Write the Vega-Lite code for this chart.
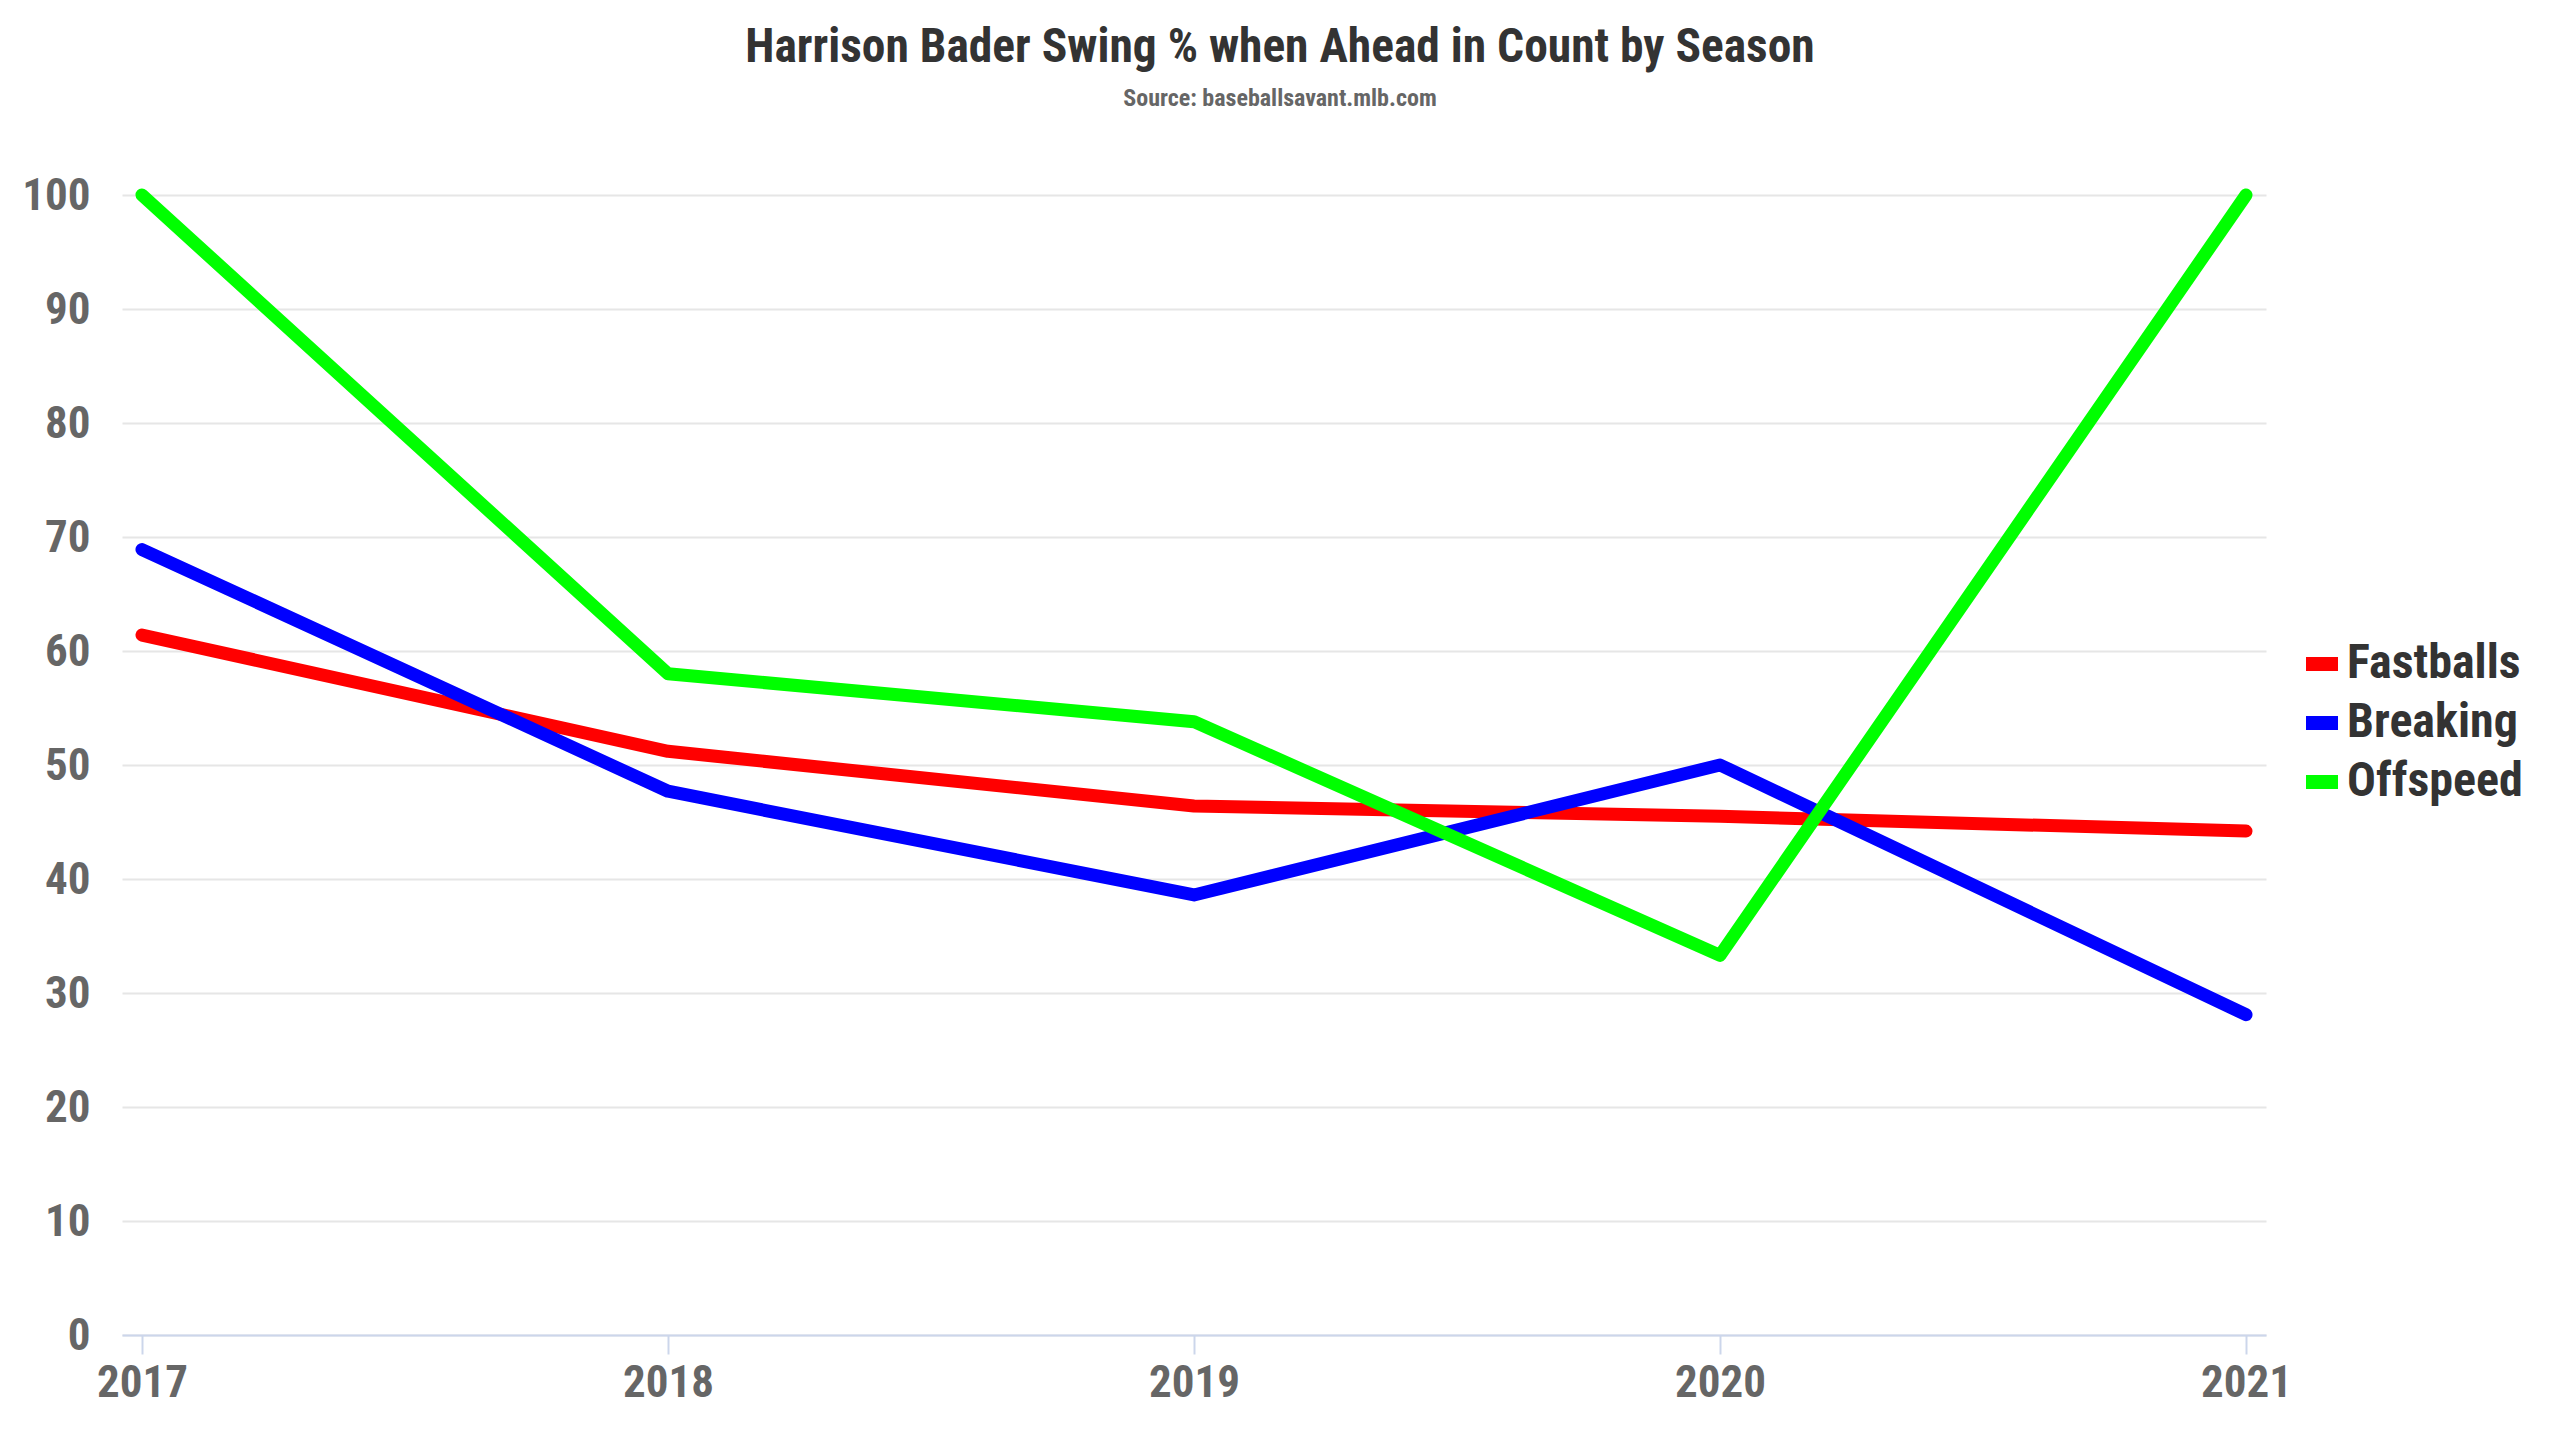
{
  "$schema": "https://vega.github.io/schema/vega-lite/v6.json",
  "autosize": {"type": "none"},
  "width": 2144,
  "height": 1140,
  "padding": {"left": 122, "top": 195, "right": 294, "bottom": 105},
  "background": "white",
  "view": {"stroke": null},
  "title": {
    "text": "Harrison Bader Swing % when Ahead in Count by Season",
    "subtitle": "Source: baseballsavant.mlb.com",
    "anchor": "middle",
    "frame": "group",
    "dx": 86,
    "offset": 62,
    "font": "Roboto Condensed, Roboto",
    "fontSize": 47.5,
    "fontWeight": "bold",
    "color": "#333333",
    "subtitleFont": "Roboto Condensed, Roboto",
    "subtitleFontSize": 24,
    "subtitleFontWeight": "bold",
    "subtitleColor": "#666666",
    "subtitlePadding": 16
  },
  "data": {
    "values": [
      {"season": "2017", "pitch": "Fastballs", "swing": 61.4},
      {"season": "2018", "pitch": "Fastballs", "swing": 51.2},
      {"season": "2019", "pitch": "Fastballs", "swing": 46.4},
      {"season": "2020", "pitch": "Fastballs", "swing": 45.5},
      {"season": "2021", "pitch": "Fastballs", "swing": 44.2},
      {"season": "2017", "pitch": "Breaking", "swing": 68.9},
      {"season": "2018", "pitch": "Breaking", "swing": 47.7},
      {"season": "2019", "pitch": "Breaking", "swing": 38.6},
      {"season": "2020", "pitch": "Breaking", "swing": 50.0},
      {"season": "2021", "pitch": "Breaking", "swing": 28.1},
      {"season": "2017", "pitch": "Offspeed", "swing": 100},
      {"season": "2018", "pitch": "Offspeed", "swing": 58.0},
      {"season": "2019", "pitch": "Offspeed", "swing": 53.8},
      {"season": "2020", "pitch": "Offspeed", "swing": 33.3},
      {"season": "2021", "pitch": "Offspeed", "swing": 100}
    ]
  },
  "mark": {"type": "line", "strokeWidth": 13, "strokeCap": "round", "strokeJoin": "round"},
  "encoding": {
    "x": {
      "field": "season",
      "type": "ordinal",
      "scale": {"type": "point", "padding": 0.038},
      "axis": {
        "title": null,
        "labelAngle": 0,
        "labelFont": "Roboto Condensed, Roboto",
        "labelFontSize": 45,
        "labelFontWeight": "bold",
        "labelColor": "#666666",
        "labelPadding": 6,
        "domainColor": "#ccd6eb",
        "domainWidth": 2,
        "tickColor": "#ccd6eb",
        "tickWidth": 2,
        "tickSize": 19,
        "grid": false
      }
    },
    "y": {
      "field": "swing",
      "type": "quantitative",
      "scale": {"domain": [0, 100], "nice": false},
      "axis": {
        "title": null,
        "values": [0, 10, 20, 30, 40, 50, 60, 70, 80, 90, 100],
        "labelFont": "Roboto Condensed, Roboto",
        "labelFontSize": 45,
        "labelFontWeight": "bold",
        "labelColor": "#666666",
        "labelPadding": 32,
        "ticks": false,
        "domain": false,
        "gridColor": "#e6e6e6",
        "gridWidth": 2
      }
    },
    "color": {
      "field": "pitch",
      "type": "nominal",
      "scale": {
        "domain": ["Fastballs", "Breaking", "Offspeed"],
        "range": ["#ff0000", "#0000ff", "#00ff00"]
      },
      "legend": {
        "title": null,
        "orient": "none",
        "legendX": 2176,
        "legendY": 445,
        "padding": 0,
        "symbolType": "stroke",
        "symbolSize": 1024,
        "symbolStrokeWidth": 14,
        "labelFont": "Roboto Condensed, Roboto",
        "labelFontSize": 48,
        "labelFontWeight": "bold",
        "labelColor": "#333333",
        "labelLimit": 0,
        "labelOffset": 1,
        "rowPadding": 3
      }
    }
  }
}
